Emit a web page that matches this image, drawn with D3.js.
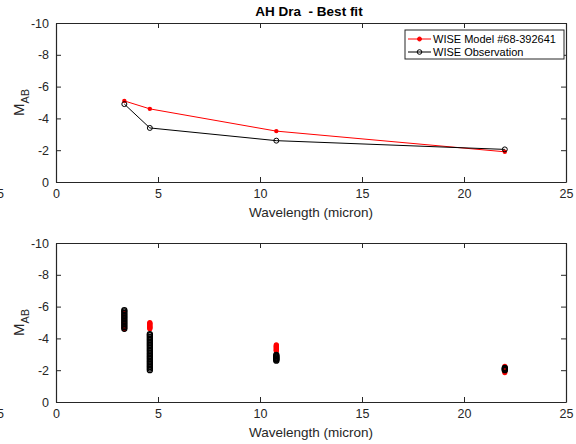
<!DOCTYPE html>
<html>
<head>
<meta charset="utf-8">
<script src="https://cdn.jsdelivr.net/npm/d3@7"></script>
<style>
  body { margin: 0; background: #fff; }
  svg { display: block; font-family: "Liberation Sans", Arial, Helvetica, sans-serif; }
</style>
</head>
<body>
<div id="fig"></div>
<script>
// WISE band centres (micron)
var bands = [3.35, 4.6, 10.8, 22.0];

// top panel: best fit model vs observation
var bestModel = [-5.1, -4.6, -3.2, -1.9];
var observed = [-4.9, -3.4, -2.6, -2.05];

// bottom panel: all models / observations per band
var modelW1 = [-5.6, -5.5, -5.4, -5.3, -5.2, -5.1, -5.0, -4.9, -4.8, -4.7, -4.6];
var modelW2 = [-5.0, -4.95, -4.9, -4.85, -4.8, -4.75, -4.7, -4.65, -4.6];
var modelW3 = [-3.6, -3.55, -3.5, -3.45, -3.4, -3.35, -3.3, -3.25, -3.2];
var modelW4 = [-2.25, -2.15, -2.05, -1.95, -1.85];
var obsW1 = [-5.78, -5.7, -5.6, -5.5, -5.4, -5.3, -5.2, -5.1, -5.0, -4.9, -4.8, -4.7, -4.6];
var obsW2 = [-4.27, -4.2, -4.1, -4.0, -3.9, -3.8, -3.7, -3.6, -3.5, -3.4, -3.3, -3.2, -3.1,
             -3.0, -2.9, -2.8, -2.7, -2.6, -2.5, -2.4, -2.3, -2.2, -2.1, -2.0];
var obsW3 = [-2.97, -2.9, -2.85, -2.8, -2.75, -2.7, -2.65, -2.6];
var obsW4 = [-2.15, -2.1, -2.05, -2.0];

var xTicks = [0, 5, 10, 15, 20, 25];
var yTicks = [0, -2, -4, -6, -8, -10];

var W = 576, H = 444;
var axisCol = '#262626';
var fmt = function(d) { return String(d); };   // plain hyphen minus, like the original
var svg = d3.select('#fig').append('svg').attr('width', W).attr('height', H);

var left = 56, right = 566;
var panels = [{top: 23, bottom: 182}, {top: 243, bottom: 402}];

var x = d3.scaleLinear().domain([0, 25]).range([left, right]);

function drawAxes(p) {
    var y = d3.scaleLinear().domain([0, -10]).range([p.bottom, p.top]);
    var g = svg.append('g');

    var xb = g.append('g').attr('transform', 'translate(0,' + p.bottom + ')')
        .call(d3.axisBottom(x).tickValues(xTicks).tickFormat(fmt).tickSizeInner(-5).tickSizeOuter(0).tickPadding(7));
    var xt = g.append('g').attr('transform', 'translate(0,' + p.top + ')')
        .call(d3.axisTop(x).tickValues(xTicks).tickSizeInner(-5).tickSizeOuter(0).tickFormat(''));
    var yl = g.append('g').attr('transform', 'translate(' + left + ',0)')
        .call(d3.axisLeft(y).tickValues(yTicks).tickFormat(fmt).tickSizeInner(-5).tickSizeOuter(0).tickPadding(7));
    var yr = g.append('g').attr('transform', 'translate(' + right + ',0)')
        .call(d3.axisRight(y).tickValues(yTicks).tickSizeInner(-5).tickSizeOuter(0).tickFormat(''));

    [xb, xt, yl, yr].forEach(function(a) {
        a.selectAll('path, line').attr('stroke', axisCol);
        a.selectAll('text').attr('fill', axisCol).style('font-size', '12.5px');
        a.select('path').attr('stroke-width', 1.2);
    });

    // leftover tick label of neighbouring figure
    g.append('text').attr('x', 4).attr('y', p.bottom + 16).attr('text-anchor', 'end')
        .attr('fill', axisCol).style('font-size', '12.5px').text('25');

    g.append('text').attr('x', (left + right) / 2).attr('y', p.bottom + 35)
        .attr('text-anchor', 'middle').attr('fill', axisCol).style('font-size', '13.5px')
        .text('Wavelength (micron)');

    var yLab = g.append('text')
        .attr('transform', 'translate(24,' + ((p.top + p.bottom) / 2) + ') rotate(-90)')
        .attr('text-anchor', 'middle').attr('fill', axisCol).style('font-size', '15px');
    yLab.append('tspan').text('M');
    yLab.append('tspan').attr('dy', 5).style('font-size', '11px').text('AB');
    return y;
}

// top panel
var y1 = drawAxes(panels[0]);

svg.append('text').attr('x', 309).attr('y', 16).attr('text-anchor', 'middle')
    .style('font-size', '13.5px').style('font-weight', 'bold').style('white-space', 'pre')
    .text('AH Dra  - Best fit');

var line = d3.line().x(function(d) { return x(d[0]); }).y(function(d) { return y1(d[1]); });

svg.append('path').attr('d', line(d3.zip(bands, bestModel)))
    .attr('fill', 'none').attr('stroke', 'red').attr('stroke-width', 1);
svg.selectAll('.mdot').data(d3.zip(bands, bestModel)).enter().append('circle')
    .attr('cx', function(d) { return x(d[0]); }).attr('cy', function(d) { return y1(d[1]); })
    .attr('r', 2.2).attr('fill', 'red');

svg.append('path').attr('d', line(d3.zip(bands, observed)))
    .attr('fill', 'none').attr('stroke', 'black').attr('stroke-width', 1);
svg.selectAll('.odot').data(d3.zip(bands, observed)).enter().append('circle')
    .attr('cx', function(d) { return x(d[0]); }).attr('cy', function(d) { return y1(d[1]); })
    .attr('r', 2.5).attr('fill', 'none').attr('stroke', 'black').attr('stroke-width', 1);

// legend
var lg = svg.append('g').attr('transform', 'translate(405,30)');
lg.append('rect').attr('width', 159).attr('height', 29).attr('fill', '#fff')
    .attr('stroke', axisCol).attr('stroke-width', 1);
var items = [
    {label: 'WISE Model #68-392641', color: 'red', open: false},
    {label: 'WISE Observation', color: 'black', open: true}
];
items.forEach(function(it, i) {
    var yy = 9 + i * 13;
    lg.append('line').attr('x1', 3).attr('x2', 26).attr('y1', yy).attr('y2', yy)
        .attr('stroke', it.color).attr('stroke-width', 1);
    lg.append('circle').attr('cx', 14.5).attr('cy', yy).attr('r', it.open ? 2.3 : 2)
        .attr('fill', it.open ? 'none' : it.color).attr('stroke', it.color).attr('stroke-width', 1);
    lg.append('text').attr('x', 28).attr('y', yy + 4).style('font-size', '11px')
        .attr('fill', '#000').text(it.label);
});

// bottom panel
var y2 = drawAxes(panels[1]);

var modelSets = [modelW1, modelW2, modelW3, modelW4];
var obsSets = [obsW1, obsW2, obsW3, obsW4];

modelSets.forEach(function(vals, i) {
    svg.append('g').selectAll('circle').data(vals).enter().append('circle')
        .attr('cx', x(bands[i])).attr('cy', function(d) { return y2(d); })
        .attr('r', 2.6).attr('fill', 'red');
});
obsSets.forEach(function(vals, i) {
    svg.append('g').selectAll('circle').data(vals).enter().append('circle')
        .attr('cx', x(bands[i])).attr('cy', function(d) { return y2(d); })
        .attr('r', 2.5).attr('fill', 'none').attr('stroke', 'black').attr('stroke-width', 1.3);
});
</script>
</body>
</html>
